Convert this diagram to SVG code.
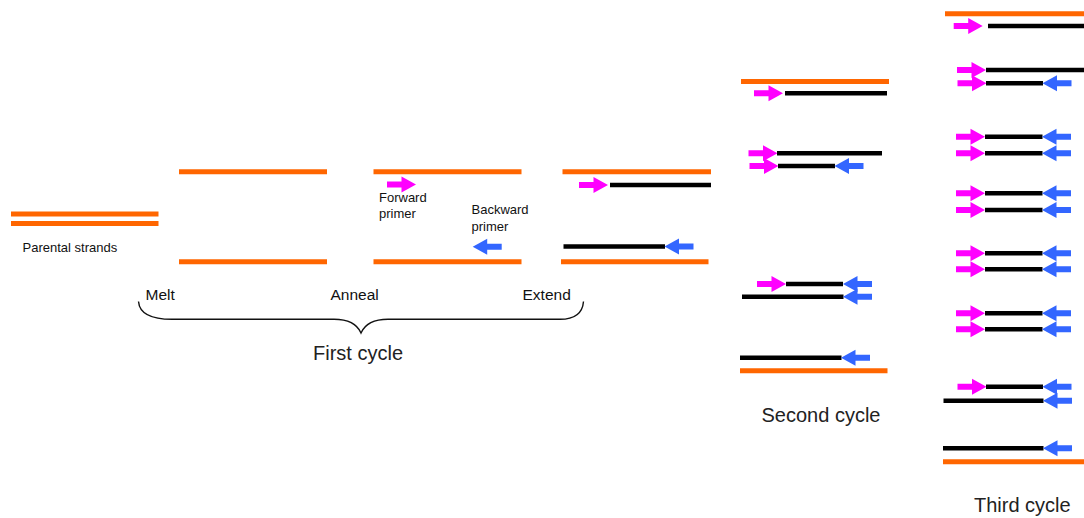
<svg xmlns="http://www.w3.org/2000/svg" xmlns:xlink="http://www.w3.org/1999/xlink" width="1084" height="518" viewBox="0 0 1084 518">
  <style>
    .tmpl { stroke: #FF6600; stroke-width: 5; fill: none; }
    .new { stroke: #000; stroke-width: 4.5; fill: none; }
    .lbl { font-family: "Liberation Sans", Arial, sans-serif; fill: #111; }
    .small { font-size: 13px; }
    .step { font-size: 15.5px; }
    .cycle { font-size: 20px; fill: #222; }
    .brace { stroke: #111; stroke-width: 1.4; fill: none; }
  </style>
  <defs>
    <!-- primer arrows, tip at origin -->
    <path id="fwd" d="M-29,-3 H-14.5 V-8 L0,0 L-14.5,8 V3 H-29 Z" fill="#FF00FF"/>
    <path id="bwd" d="M29,-3 H14.5 V-8 L0,0 L14.5,8 V3 H29 Z" fill="#3366FF"/>
  </defs>
  <rect width="1084" height="518" fill="#fff"/>

  <!-- parental double strand -->
  <g id="parental">
    <line class="tmpl" x1="11" y1="214" x2="158.5" y2="214"/>
    <line class="tmpl" x1="11" y1="223.5" x2="158.5" y2="223.5"/>
    <text class="lbl small" x="22.5" y="251.5">Parental strands</text>
  </g>

  <!-- melt: separated strands -->
  <g id="melt">
    <line class="tmpl" x1="179" y1="171.8" x2="327" y2="171.8"/>
    <line class="tmpl" x1="179" y1="261.8" x2="327" y2="261.8"/>
    <text class="lbl step" x="145.5" y="300">Melt</text>
  </g>

  <!-- anneal: primers bind -->
  <g id="anneal">
    <line class="tmpl" x1="373.5" y1="171.8" x2="521.5" y2="171.8"/>
    <line class="tmpl" x1="373.5" y1="261.8" x2="521.5" y2="261.8"/>
    <use xlink:href="#fwd" x="416" y="184.5"/>
    <use xlink:href="#bwd" x="472.7" y="246.7"/>
    <text class="lbl small" x="379" y="201.5">Forward</text>
    <text class="lbl small" x="379" y="218">primer</text>
    <text class="lbl small" x="471.5" y="214">Backward</text>
    <text class="lbl small" x="471.5" y="230.5">primer</text>
    <text class="lbl step" x="330.5" y="300">Anneal</text>
  </g>

  <!-- extend: new strands synthesised -->
  <g id="extend">
    <line class="tmpl" x1="562.5" y1="171.8" x2="711" y2="171.8"/>
    <use xlink:href="#fwd" x="608" y="185"/>
    <line class="new" x1="610" y1="185" x2="711" y2="185"/>
    <line class="new" x1="563.5" y1="246.5" x2="665" y2="246.5"/>
    <use xlink:href="#bwd" x="664.5" y="246.5"/>
    <line class="tmpl" x1="561" y1="261.8" x2="708.5" y2="261.8"/>
    <text class="lbl step" x="522.5" y="300">Extend</text>
  </g>

  <!-- brace grouping the first cycle -->
  <g id="connectors">
    <path class="brace" d="M138.5,301.5 C139.5,314 152,319.3 172,319.3 H334 C348,319.3 357,324 361,333 C365,324 374,319.3 388,319.3 H560 C574,319.3 582.5,314 583.5,301.5"/>
  </g>
  <g id="first-cycle">
    <text class="lbl cycle" x="313" y="360">First cycle</text>
  </g>

  <!-- second cycle products -->
  <g id="second-cycle">
    <g id="c2-a">
      <line class="tmpl" x1="741" y1="81.4" x2="889" y2="81.4"/>
      <use xlink:href="#fwd" x="783" y="93.3"/>
      <line class="new" x1="785" y1="93.3" x2="887" y2="93.3"/>
    </g>
    <g id="c2-b">
      <use xlink:href="#fwd" x="777.5" y="153.3"/>
      <line class="new" x1="777" y1="153.3" x2="882" y2="153.3"/>
      <use xlink:href="#fwd" x="778.5" y="166"/>
      <line class="new" x1="778" y1="166" x2="835" y2="166"/>
      <use xlink:href="#bwd" x="834.5" y="166"/>
    </g>
    <g id="c2-c">
      <use xlink:href="#fwd" x="786" y="284"/>
      <line class="new" x1="786" y1="284" x2="843" y2="284"/>
      <use xlink:href="#bwd" x="843" y="284"/>
      <line class="new" x1="742" y1="296.7" x2="843.5" y2="296.7"/>
      <use xlink:href="#bwd" x="843" y="296.7"/>
    </g>
    <g id="c2-d">
      <line class="new" x1="740" y1="357.7" x2="841.5" y2="357.7"/>
      <use xlink:href="#bwd" x="841" y="357.7"/>
      <line class="tmpl" x1="740" y1="370.7" x2="887.5" y2="370.7"/>
    </g>
    <text class="lbl cycle" x="761.5" y="421.5">Second cycle</text>
  </g>

  <!-- third cycle products -->
  <g id="third-cycle">
    <g id="c3-a">
      <line class="tmpl" x1="945" y1="13.8" x2="1084" y2="13.8"/>
      <use xlink:href="#fwd" x="982.7" y="26"/>
      <line class="new" x1="988" y1="26" x2="1084" y2="26"/>
    </g>
    <g id="c3-b">
      <use xlink:href="#fwd" x="986" y="70"/>
      <line class="new" x1="986" y1="70" x2="1084" y2="70"/>
      <use xlink:href="#fwd" x="986.5" y="83.3"/>
      <line class="new" x1="986" y1="83.3" x2="1043" y2="83.3"/>
      <use xlink:href="#bwd" x="1042.5" y="83.3"/>
    </g>
    <g id="c3-c">
      <use xlink:href="#fwd" x="985" y="136.7"/>
      <line class="new" x1="985" y1="136.7" x2="1042.5" y2="136.7"/>
      <use xlink:href="#bwd" x="1042" y="136.7"/>
      <use xlink:href="#fwd" x="985" y="153.3"/>
      <line class="new" x1="985" y1="153.3" x2="1042.5" y2="153.3"/>
      <use xlink:href="#bwd" x="1042" y="153.3"/>
    </g>
    <g id="c3-d">
      <use xlink:href="#fwd" x="985" y="193.3"/>
      <line class="new" x1="985" y1="193.3" x2="1042.5" y2="193.3"/>
      <use xlink:href="#bwd" x="1042" y="193.3"/>
      <use xlink:href="#fwd" x="985" y="210"/>
      <line class="new" x1="985" y1="210" x2="1042.5" y2="210"/>
      <use xlink:href="#bwd" x="1042" y="210"/>
    </g>
    <g id="c3-e">
      <use xlink:href="#fwd" x="985" y="253.3"/>
      <line class="new" x1="985" y1="253.3" x2="1042.5" y2="253.3"/>
      <use xlink:href="#bwd" x="1042" y="253.3"/>
      <use xlink:href="#fwd" x="985" y="269.3"/>
      <line class="new" x1="985" y1="269.3" x2="1042.5" y2="269.3"/>
      <use xlink:href="#bwd" x="1042" y="269.3"/>
    </g>
    <g id="c3-f">
      <use xlink:href="#fwd" x="985" y="313.3"/>
      <line class="new" x1="985" y1="313.3" x2="1042.5" y2="313.3"/>
      <use xlink:href="#bwd" x="1042" y="313.3"/>
      <use xlink:href="#fwd" x="985" y="329.3"/>
      <line class="new" x1="985" y1="329.3" x2="1042.5" y2="329.3"/>
      <use xlink:href="#bwd" x="1042" y="329.3"/>
    </g>
    <g id="c3-g">
      <use xlink:href="#fwd" x="986.5" y="386.7"/>
      <line class="new" x1="986" y1="386.7" x2="1043" y2="386.7"/>
      <use xlink:href="#bwd" x="1042.5" y="386.7"/>
      <line class="new" x1="943.5" y1="400.7" x2="1043.5" y2="400.7"/>
      <use xlink:href="#bwd" x="1043" y="400.7"/>
    </g>
    <g id="c3-h">
      <line class="new" x1="943" y1="448.3" x2="1043.5" y2="448.3"/>
      <use xlink:href="#bwd" x="1043" y="448.3"/>
      <line class="tmpl" x1="943" y1="461.7" x2="1084" y2="461.7"/>
    </g>
    <text class="lbl cycle" x="974" y="511.5">Third cycle</text>
  </g>
</svg>
